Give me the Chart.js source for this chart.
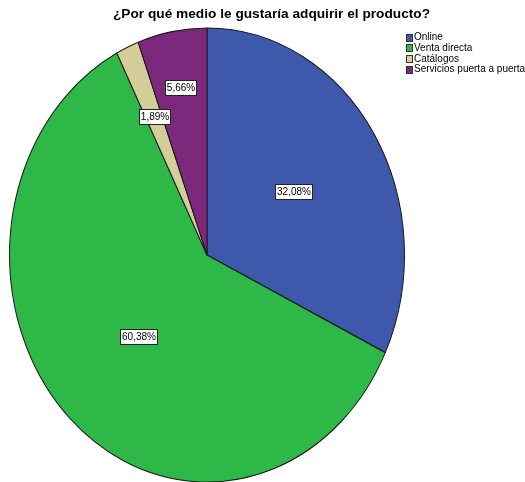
<!DOCTYPE html>
<html>
<head>
<meta charset="utf-8">
<script src="https://cdn.jsdelivr.net/npm/chart.js@4/dist/chart.umd.min.js"></script>
<style>
  html, body { margin: 0; padding: 0; background: #fff; }
  #wrap { width: 525px; height: 482px; }
</style>
</head>
<body>
<div id="wrap"><canvas id="pie"></canvas></div>
<script>
var titleText = '¿Por qué medio le gustaría adquirir el producto?';
var categories = ['Online', 'Venta directa', 'Catálogos', 'Servicios puerta a puerta'];
var counts = [17, 32, 1, 3];
var colors = ['#3E58AC', '#2EB848', '#D3CE97', '#7C287D'];

// how far out along the slice each percent box sits (fraction of radius)
var labelRadius = [0.52, 0.5, 0.665, 0.75];

var total = counts.reduce(function (a, b) { return a + b; }, 0);

function pctText(v) {
    return (v / total * 100).toFixed(2).replace('.', ',') + '%';
}

// stretch the pie vertically into an ellipse filling the chart area
var ovalPlugin = {
    id: 'oval',
    beforeDatasetsDraw: function (chart) {
        var arc = chart.getDatasetMeta(0).data[0];
        var sy = (chart.chartArea.height / 2) / arc.outerRadius;
        chart.$ovalScale = sy;
        var ctx = chart.ctx;
        ctx.save();
        ctx.translate(arc.x, arc.y);
        ctx.scale(1, sy);
        ctx.translate(-arc.x, -arc.y);
    },
    afterDatasetsDraw: function (chart) {
        chart.ctx.restore();
    }
};

var boxesPlugin = {
    id: 'boxes',
    afterDraw: function (chart) {
        var ctx = chart.ctx;
        var meta = chart.getDatasetMeta(0);
        var sy = chart.$ovalScale || 1;
        ctx.save();

        // title, centred over the whole figure
        ctx.font = 'bold 13.7px "Liberation Sans", Arial, sans-serif';
        ctx.fillStyle = '#000';
        ctx.textAlign = 'center';
        ctx.textBaseline = 'middle';
        ctx.fillText(titleText, 271.5, 14.5);

        ctx.font = '10px "Liberation Sans", Arial, sans-serif';
        meta.data.forEach(function (arc, i) {
            var mid = (arc.startAngle + arc.endAngle) / 2;
            var r = arc.outerRadius * labelRadius[i];
            var x = arc.x + Math.cos(mid) * r;
            var y = arc.y + Math.sin(mid) * r * sy;
            var txt = pctText(counts[i]);
            var w = Math.round(ctx.measureText(txt).width + 3);
            var h = 15;
            var bx = Math.round(x - w / 2) + 0.5, by = Math.round(y - h / 2) + 0.5;
            ctx.fillStyle = '#fff';
            ctx.fillRect(bx, by, w, h);
            ctx.strokeStyle = '#222';
            ctx.lineWidth = 1;
            ctx.strokeRect(bx, by, w, h);
            ctx.fillStyle = '#000';
            ctx.fillText(txt, bx + w / 2, by + h / 2 + 0.5);
        });

        // legend in the upper right corner
        var lx = 406, ly = 37.5, step = 10.7;
        ctx.textAlign = 'left';
        categories.forEach(function (name, i) {
            var yy = ly + i * step;
            var top = Math.round(yy - 4) + 0.5;
            ctx.fillStyle = colors[i];
            ctx.fillRect(lx + 0.5, top, 6, 7);
            ctx.strokeStyle = '#333';
            ctx.strokeRect(lx + 0.5, top, 6, 7);
            ctx.fillStyle = '#000';
            ctx.fillText(name, lx + 8, yy);
        });
        ctx.restore();
    }
};

new Chart(document.getElementById('pie'), {
    type: 'pie',
    data: {
        labels: categories,
        datasets: [{
            data: counts,
            backgroundColor: colors,
            borderColor: '#1a1a1a',
            borderWidth: 1
        }]
    },
    options: {
        responsive: true,
        maintainAspectRatio: false,
        animation: false,
        layout: { padding: { left: 9, right: 120, top: 28, bottom: 0 } },
        plugins: {
            legend: { display: false },
            tooltip: { enabled: false },
            title: { display: false }
        }
    },
    plugins: [ovalPlugin, boxesPlugin]
});
</script>
</body>
</html>
